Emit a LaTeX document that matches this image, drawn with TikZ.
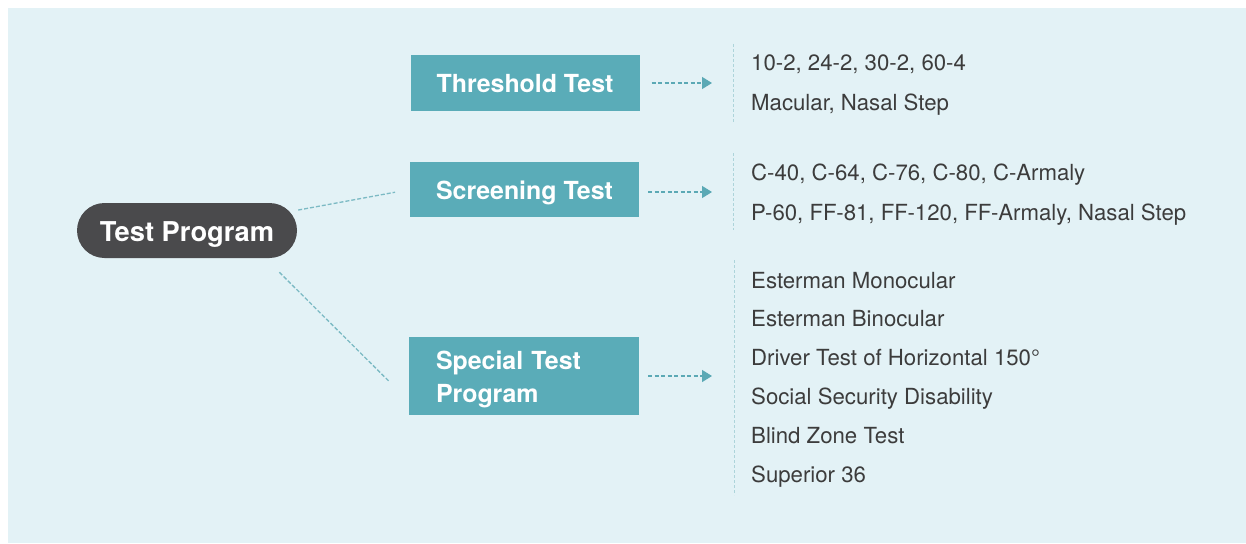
\documentclass[tikz,border=0pt]{standalone}
\usepackage{fontspec}
\setmainfont{TeX Gyre Heros}
\usetikzlibrary{arrows.meta}

\definecolor{bgblue}{HTML}{E3F2F6}
\definecolor{boxteal}{HTML}{5AACB8}
\definecolor{pilldark}{HTML}{4A4A4C}
\definecolor{itemgray}{HTML}{3C3C3C}
\definecolor{dashteal}{HTML}{5BA9B5}

\begin{document}
\begin{tikzpicture}[x=1pt, y=-1pt,
    program/.style={rectangle, fill=pilldark, rounded corners=27.5pt, minimum width=220pt, minimum height=55pt,
        text height=22pt, text depth=0pt, text=white, font=\fontsize{27.3}{32}\selectfont\bfseries},
    testbox/.style={rectangle, fill=boxteal, minimum width=229pt, minimum height=55pt,
        text height=19pt, text depth=0pt, text=white, font=\fontsize{24.9}{33}\selectfont\bfseries},
    item/.style={anchor=base west, inner sep=0pt, text=itemgray, font=\fontsize{22.2}{26}\selectfont},
    link/.style={dashteal!80, dash pattern=on 4pt off 2pt, line width=1.3pt},
    pointer/.style={dashteal, dash pattern=on 4pt off 2.5pt, line width=1.3pt, -{Triangle[length=10pt, width=12pt]}},
    divider/.style={dashteal!50, dash pattern=on 3pt off 2pt, line width=1pt}]

    % Background
    \useasboundingbox (0,0) rectangle (1246,543);
    \fill[bgblue] (8,8) rectangle (1246,543);

    % Nodes
    \node[program] (prog) at (187,230.5) {Test Program};
    \node[testbox] (thresh) at (525,83) {Threshold Test};
    \node[testbox] (screen) at (524.5,189.5) {Screening Test};
    \node[testbox, minimum height=78pt, text depth=33pt, inner xsep=27pt, text width=176pt, align=left] (special)
    at (524,376) {Special Test\\Program};

    % Links from the program
    \draw[link, shorten <=1pt, shorten >=15pt] (prog) -- (screen.west);
    \draw[link, shorten <=20pt, shorten >=28pt] ([xshift=-32pt]prog.south east) -- ([yshift=-25pt]special.west);

    % Dividers
    \coordinate (tlist) at (733,83);
    \coordinate (slist) at (733,192);
    \coordinate (plist) at (734,376);
    \draw[divider] (733,44) -- (733,122);
    \draw[divider] (733,153) -- (733,230);
    \draw[divider] (734,260) -- (734,495);

    % Arrows
    \draw[pointer, shorten <=12pt, shorten >=21pt] (thresh.east) -- (tlist);
    \draw[pointer, shorten <=9pt, shorten >=21pt] (screen.east |- slist) -- (slist);
    \draw[pointer, shorten <=9pt, shorten >=22pt] (special.east) -- (plist);

    % Lists
    \node[item] (t1) at (751,70.5) {10-2, 24-2, 30-2, 60-4};
    \node[item] (t2) at (751,110.5) {Macular, Nasal Step};
    \node[item] (s1) at (751,180) {C-40, C-64, C-76, C-80, C-Armaly};
    \node[item] (s2) at (751,220) {P-60, FF-81, FF-120, FF-Armaly, Nasal Step};
    \foreach \txt [count=\i from 0] in {Esterman Monocular, Esterman Binocular, Driver Test of Horizontal 150°,
        Social Security Disability, Blind Zone Test, Superior 36}
        \node[item] (p\i) at (751,288+38.8*\i) {\txt};

\end{tikzpicture}
\end{document}
